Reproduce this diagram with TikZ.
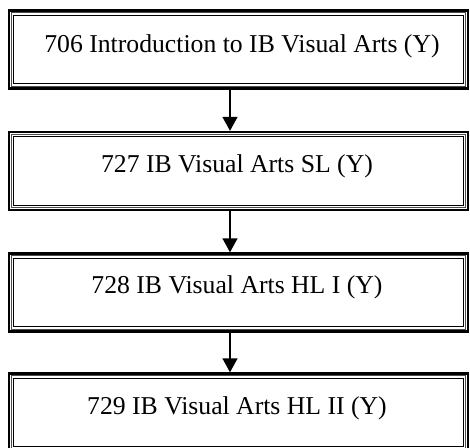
\documentclass[tikz,border=0pt]{standalone}
\usepackage{fontspec}
\setmainfont{Liberation Serif}
\usetikzlibrary{arrows.meta}
\begin{document}
\begin{tikzpicture}[x=1pt,y=-1pt,
  boxframe/.style={draw=black,line width=2.4pt,minimum width=459pt,minimum height=78pt,inner sep=0pt},
  boxtext/.style={anchor=base,inner sep=0pt,font=\fontsize{25.7}{30}\selectfont},
  arr/.style={line width=1.4pt,-{Triangle[width=15pt,length=14pt]}}]
\useasboundingbox (0,0) rectangle (470,447);
\clip (0,0) rectangle (470,447);
\node[boxframe] (b1) at (238.5,49.5) {};
\node[boxframe] (b2) at (238.5,171) {};
\node[boxframe] (b3) at (238.5,292.5) {};
\node[boxframe] (b4) at (238.5,412.5) {};
\foreach \b in {b1,b2,b3,b4}{
  \draw[line width=0.8pt,black!70] ([shift={(3.4pt,-3.4pt)}]\b.north west) rectangle ([shift={(-3.4pt,3.4pt)}]\b.south east);
  \draw[line width=1.2pt] ([shift={(6pt,-6pt)}]\b.north west) rectangle ([shift={(-6pt,6pt)}]\b.south east);
}
\node[boxtext] (t1) at (242,52) {706 Introduction to IB Visual Arts (Y)};
\node[boxtext] (t2) at (237,172) {727 IB Visual Arts SL (Y)};
\node[boxtext] (t3) at (237,293) {728 IB Visual Arts HL I (Y)};
\node[boxtext] (t4) at (237,414) {729 IB Visual Arts HL II (Y)};
\draw[arr] (b1.south -| 230,0) -- (b2.north -| 230,0);
\draw[arr] (b2.south -| 230,0) -- (b3.north -| 230,0);
\draw[arr] (b3.south -| 230,0) -- (b4.north -| 230,0);
\end{tikzpicture}
\end{document}
